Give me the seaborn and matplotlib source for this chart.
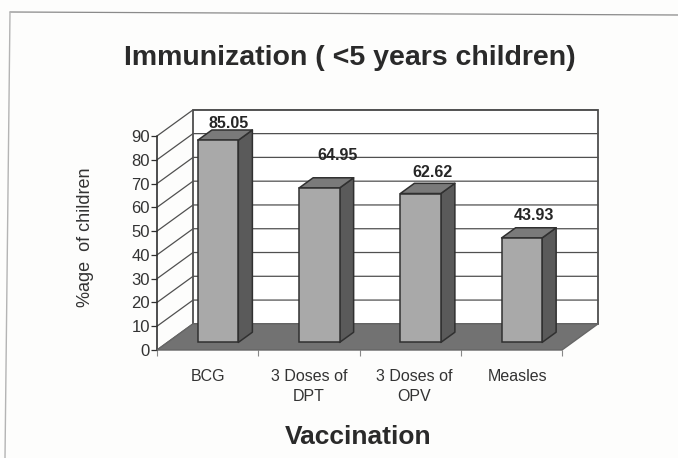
import matplotlib
matplotlib.use('Agg')
import matplotlib.pyplot as plt
from matplotlib.lines import Line2D
from matplotlib.patches import Polygon
from matplotlib.transforms import ScaledTranslation, offset_copy
import pandas as pd
import seaborn as sns

categories = ['BCG', '3 Doses of\nDPT', '3 Doses of\nOPV', 'Measles']
values = [85.05, 64.95, 62.62, 43.93]
value_labels = ['85.05', '64.95', '62.62', '43.93']
y_ticks = [0, 10, 20, 30, 40, 50, 60, 70, 80, 90]

sns.set_theme(style='white')
plt.rcParams['font.family'] = ['Liberation Sans', 'DejaVu Sans']

# depth of the fake 3d box, in data units
DEPTH_X = 0.356
DEPTH_Y = 11.0
BAR_FRONT = 0.29
BAR_BACK = 0.68
X0, X1 = -0.5, 3.5
Y1 = 90
INK = '#303030'

def proj(x, y, d):
    return (x + d * DEPTH_X, y + d * DEPTH_Y)

def face(ax, pts, color, z):
    ax.add_patch(Polygon(pts, closed=True, facecolor=color, edgecolor=INK, lw=1.1,
                         zorder=z, clip_on=False, joinstyle='round'))

fig = plt.figure(figsize=(6.78, 4.58), dpi=100, facecolor='#fdfdfc')
ax = fig.add_axes([157 / 678, 1 - 350 / 458, 405 / 678, 214 / 458])
ax.set_facecolor('none')

df = pd.DataFrame({'Vaccination': categories, 'Percent': values})
sns.barplot(data=df, x='Vaccination', y='Percent', color='#a9a9a9', saturation=1,
            width=0.4, edgecolor=INK, linewidth=1.1, ax=ax, zorder=5)
ax.set_xlim(X0, X1)
ax.set_ylim(0, Y1)

# back wall and left wall
ax.add_patch(Polygon([proj(X0, 0, 1), proj(X1, 0, 1), proj(X1, Y1, 1), proj(X0, Y1, 1)],
                     closed=True, facecolor='white', edgecolor='#404040', lw=1.2,
                     zorder=1, clip_on=False))
for t in y_ticks:
    a, b, c = proj(X0, t, 0), proj(X0, t, 1), proj(X1, t, 1)
    ax.plot([a[0], b[0], c[0]], [a[1], b[1], c[1]], color='#505050', lw=0.9,
            zorder=2, clip_on=False)
ax.plot([X0, X0], [0, Y1], color=INK, lw=1.2, zorder=2, clip_on=False)

# floor
ax.add_patch(Polygon([proj(X0, 0, 0), proj(X1, 0, 0), proj(X1, 0, 1), proj(X0, 0, 1)],
                     closed=True, facecolor='#727272', edgecolor='#666666', lw=1.0,
                     zorder=3, clip_on=False))

# bars: the seaborn rectangles become the front faces, sides and tops are added to them
shift = offset_copy(ax.transData, fig=fig, x=BAR_FRONT * DEPTH_X * 405 / 4 / 100 * 72,
                    y=BAR_FRONT * DEPTH_Y * 214 / 90 / 100 * 72, units='points')
for bar in ax.patches:
    if bar.get_zorder() != 5:
        continue
    x, w, h = bar.get_x(), bar.get_width(), bar.get_height()
    bar.set_transform(shift)
    bar.set_clip_on(False)
    r = x + w
    face(ax, [proj(r, 0, BAR_FRONT), proj(r, 0, BAR_BACK), proj(r, h, BAR_BACK), proj(r, h, BAR_FRONT)],
         '#5a5a5a', 4)
    face(ax, [proj(x, h, BAR_FRONT), proj(r, h, BAR_FRONT), proj(r, h, BAR_BACK), proj(x, h, BAR_BACK)],
         '#7a7a7a', 4)

# value labels sit where the original has them, pixel offsets from the bar top
label_dx = [6, 13, 7, 7]
label_dy = [6.5, 22.5, 10.5, 12.5]
for i, (v, s) in enumerate(zip(values, value_labels)):
    px, py = proj(i, v, BAR_BACK)
    ax.annotate(s, (i, py), xytext=(label_dx[i] * 0.72 + 11, label_dy[i] * 0.72), textcoords='offset points',
                ha='center', va='center', fontsize=11.5, fontweight='bold', color='#262626',
                zorder=8, annotation_clip=False)

sns.despine(ax=ax, top=True, right=True, left=True, bottom=True)
ax.set_yticks(y_ticks)
ax.set_xticks(range(len(categories)))
ax.set_xticks([-0.5, 0.5, 1.5, 2.5, 3.5], minor=True)
ax.set_xticklabels(categories, linespacing=1.35)
ax.tick_params(axis='x', which='major', length=0, pad=14, labelsize=11.5, labelcolor='#333333')
ax.tick_params(axis='x', which='minor', length=4, width=0.8, color='#888888', bottom=True)
ax.tick_params(axis='y', length=4, width=0.9, color=INK, pad=1, labelsize=12, labelcolor='#333333', left=True)
ax.set_xlabel('')
ax.set_ylabel('')
# the original labels drift a little right of their categories
label_shift = [0, 0, 4, 6]
for lab, dx in zip(ax.get_xticklabels(), label_shift):
    lab.set_transform(lab.get_transform() + ScaledTranslation(dx / 100, 0, fig.dpi_scale_trans))

fig.text(350 / 678, 1 - 58 / 458, 'Immunization ( <5 years children)', ha='center', va='center',
         fontsize=20.5, fontweight='bold', color='#2a2a2a')
fig.text(358 / 678, 1 - 437 / 458, 'Vaccination', ha='center', va='center',
         fontsize=19, fontweight='bold', color='#2a2a2a')
fig.text(85 / 678, 1 - 237 / 458, '%age  of children', ha='center', va='center', rotation=90,
         fontsize=13, color='#333333')

# scanned page frame
fig.add_artist(Line2D([10 / 678, 1], [1 - 12 / 458, 1 - 15 / 458], color='#8a8a8a', lw=0.9))
fig.add_artist(Line2D([10 / 678, 5 / 678], [1 - 12 / 458, 0], color='#b4b4b4', lw=1.0))

fig.savefig('out.png', dpi=100, facecolor=fig.get_facecolor())
